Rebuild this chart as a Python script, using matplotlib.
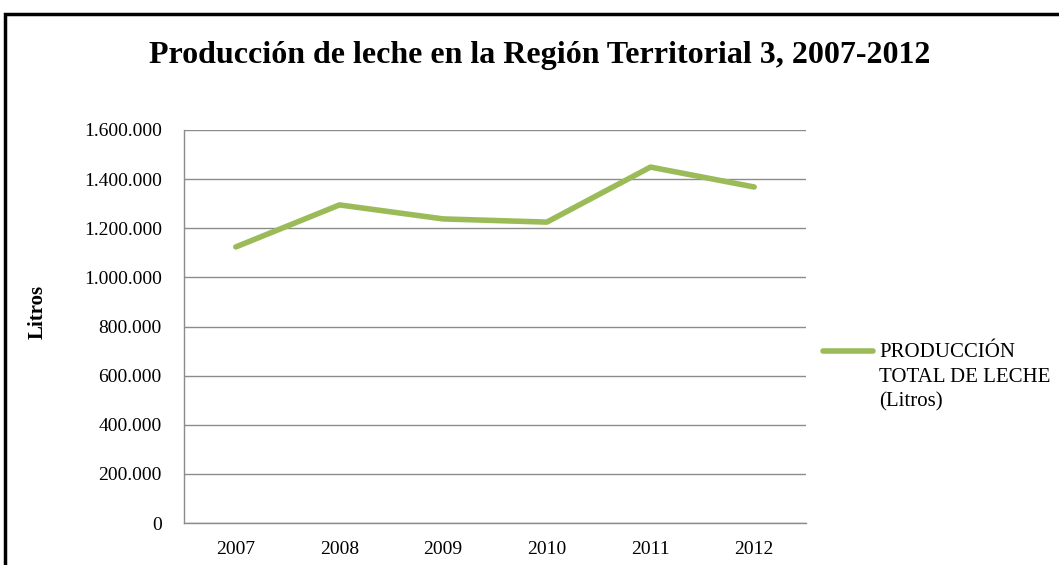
"""Milk production line chart, Región Territorial 3, 2007-2012."""

import matplotlib
matplotlib.use("Agg")
import matplotlib.pyplot as plt
from matplotlib.patches import Rectangle
from matplotlib.ticker import FuncFormatter

plt.rcParams["font.family"] = ["Liberation Serif", "DejaVu Serif"]

years = ["2007", "2008", "2009", "2010", "2011", "2012"]
litros = [1124000, 1295000, 1238000, 1225000, 1449000, 1368000]
series_label = "PRODUCCIÓN\nTOTAL DE LECHE\n(Litros)"
title = "Producción de leche en la Región Territorial 3, 2007-2012"

GREEN = "#9BBB59"
GRID = "#8C8C8C"


def fmt_miles(v, _pos):
    return f"{int(v):,}".replace(",", ".")


def plot():
    fig = plt.figure(figsize=(10.59, 5.65), dpi=100)
    ax = fig.add_axes([184 / 1059, 1 - 523 / 565, 622 / 1059, 393 / 565])

    x = range(len(years))
    ax.plot(x, litros, color=GREEN, linewidth=4, solid_capstyle="round",
            solid_joinstyle="round", label=series_label)

    ax.set_xlim(-0.5, len(years) - 0.5)
    ax.set_ylim(0, 1600000)
    ax.set_yticks(range(0, 1600001, 200000))
    ax.yaxis.set_major_formatter(FuncFormatter(fmt_miles))
    ax.set_xticks(list(x))
    ax.set_xticklabels(years)
    ax.tick_params(axis="both", length=0, labelsize=14, colors="black")
    ax.tick_params(axis="y", pad=16)
    ax.tick_params(axis="x", pad=13)

    ax.grid(axis="y", color=GRID, linewidth=1)
    ax.set_axisbelow(True)
    for side in ("top", "right"):
        ax.spines[side].set_visible(False)
    for side in ("left", "bottom"):
        ax.spines[side].set_color(GRID)
        ax.spines[side].set_linewidth(1)

    fig.text(38 / 1059, 1 - 312 / 565, "Litros", rotation=90, ha="center",
             va="center", fontsize=15, fontweight="bold")

    fig.text(540 / 1059, 1 - 55 / 565, title, ha="center", va="center",
             fontsize=23, fontweight="bold")

    leg = ax.legend(loc="upper left", bbox_to_anchor=(1.027, 0.457), frameon=False,
                    fontsize=15, handlelength=2.4, handletextpad=0.3,
                    borderaxespad=0, borderpad=0)
    for t in leg.get_texts():
        t.set_linespacing(1.4)
    # put the line next to the first text line, not centred on the block
    for col in leg._legend_handle_box.get_children():
        for row in col.get_children():
            row.align = "top"

    # outer chart frame (clipped on right and bottom in the original)
    fig.patches.append(Rectangle((5 / 1059, -0.05), 1.1, 1 - 14 / 565 + 0.05,
                                 transform=fig.transFigure, fill=False,
                                 edgecolor="black", linewidth=2.5))

    plt.savefig("out.png", dpi=100)


if __name__ == "__main__":
    plot()
